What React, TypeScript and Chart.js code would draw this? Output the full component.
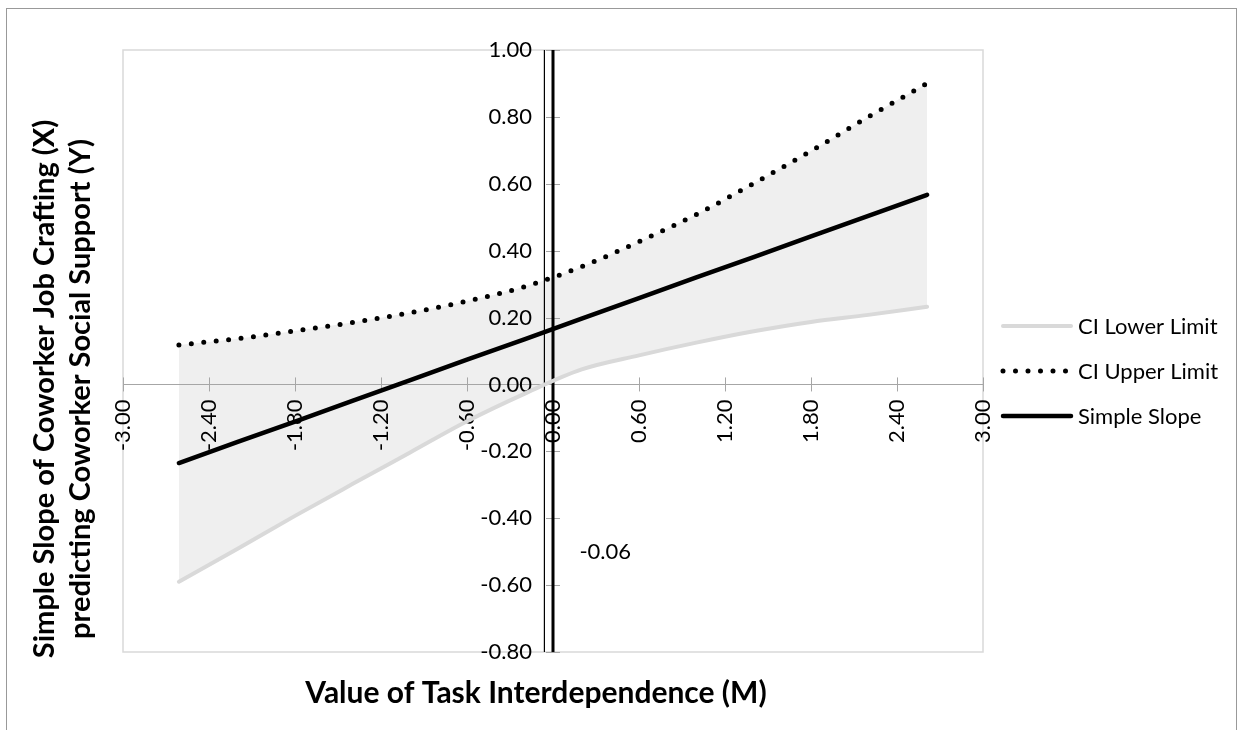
import React, { useEffect, useRef } from "react";
import { Chart, registerables } from "chart.js";

Chart.register(...registerables);

// ---- data ----
const X_VALUES = [-2.61, -2.2, -1.8, -1.4, -1.0, -0.6, -0.2, 0.2, 0.6, 1.0, 1.4, 1.8, 2.2, 2.61];
const SIMPLE_SLOPE = [-0.235, -0.172, -0.111, -0.049, 0.012, 0.074, 0.135, 0.197, 0.258, 0.32, 0.381, 0.443, 0.504, 0.567];
const CI_UPPER = [0.118, 0.137, 0.16, 0.185, 0.214, 0.249, 0.292, 0.352, 0.427, 0.508, 0.601, 0.698, 0.8, 0.9];
const CI_LOWER = [-0.59, -0.491, -0.393, -0.298, -0.204, -0.11, -0.028, 0.045, 0.087, 0.125, 0.159, 0.187, 0.208, 0.232];

const X_TICKS = [-3, -2.4, -1.8, -1.2, -0.6, 0, 0.6, 1.2, 1.8, 2.4, 3];
const Y_TICKS = [-0.8, -0.6, -0.4, -0.2, 0, 0.2, 0.4, 0.6, 0.8, 1.0];
const X_MIN = -3;
const X_MAX = 3;
const Y_MIN = -0.8;
const Y_MAX = 1.0;

const JN_POINT = -0.06;
const ZERO_LINE_X = 0;

const SERIES_NAMES = ["CI Lower Limit", "CI Upper Limit", "Simple Slope"];
const X_TITLE = "Value of Task Interdependence (M)";
const Y_TITLE = ["Simple Slope of Coworker Job Crafting (X)", "predicting Coworker Social Support (Y)"];

const FONT = "Lato, 'Open Sans', sans-serif";
const AXIS_GRAY = "#a6a6a6";
const LABEL_SIZE = 22;

const toPoints = (ys: number[]) => X_VALUES.map((x, i) => ({ x, y: ys[i] }));

const decorPlugin = {
  id: "decor",
  beforeDatasetsDraw(chart: any) {
    const { ctx, chartArea: a, scales } = chart;
    const xs = scales.x;
    const ys = scales.y;
    const y0 = ys.getPixelForValue(0);
    const x0 = xs.getPixelForValue(0);
    ctx.save();
    // plot area border
    ctx.strokeStyle = "#d9d9d9";
    ctx.lineWidth = 1.5;
    ctx.strokeRect(a.left, a.top, a.right - a.left, a.bottom - a.top);
    // axis lines
    ctx.strokeStyle = AXIS_GRAY;
    ctx.lineWidth = 1;
    const yl = Math.round(y0) + 0.5;
    ctx.beginPath();
    ctx.moveTo(a.left, yl);
    ctx.lineTo(a.right, yl);
    ctx.stroke();
    const xl = Math.round(x0) + 0.5;
    ctx.beginPath();
    ctx.moveTo(xl, a.top);
    ctx.lineTo(xl, a.bottom);
    ctx.stroke();
    // crossing tick marks
    X_TICKS.forEach((v) => {
      const px = Math.round(xs.getPixelForValue(v)) + 0.5;
      ctx.beginPath();
      ctx.moveTo(px, y0 - 7);
      ctx.lineTo(px, y0 + 7);
      ctx.stroke();
    });
    Y_TICKS.forEach((v) => {
      const py = Math.round(ys.getPixelForValue(v)) + 0.5;
      ctx.beginPath();
      ctx.moveTo(x0 - 7, py);
      ctx.lineTo(x0 + 7, py);
      ctx.stroke();
    });
    // tick labels
    ctx.fillStyle = "#000";
    ctx.font = `${LABEL_SIZE}px ${FONT}`;
    X_TICKS.forEach((v) => {
      const px = xs.getPixelForValue(v);
      ctx.save();
      ctx.translate(px, y0 + 15);
      ctx.rotate(-Math.PI / 2);
      ctx.textAlign = "right";
      ctx.textBaseline = "middle";
      ctx.fillText(v.toFixed(2), 0, 0);
      ctx.restore();
    });
    ctx.textAlign = "right";
    ctx.textBaseline = "middle";
    Y_TICKS.forEach((v) => {
      ctx.fillText(v.toFixed(2), x0 - 21, ys.getPixelForValue(v));
    });
    ctx.restore();
  },
  afterDraw(chart: any) {
    const { ctx, chartArea: a, scales } = chart;
    const xs = scales.x;
    const ys = scales.y;
    ctx.save();
    // JN label
    ctx.fillStyle = "#000";
    ctx.font = `${LABEL_SIZE}px ${FONT}`;
    ctx.textAlign = "left";
    ctx.textBaseline = "middle";
    ctx.fillText(JN_POINT.toFixed(2), xs.getPixelForValue(JN_POINT) + 35, ys.getPixelForValue(-0.5));

    // legend
    const order = [2, 1, 0];
    const lx = a.right + 18;
    order.forEach((di, i) => {
      const ds = chart.data.datasets[di];
      const y = 326 + i * 45;
      ctx.save();
      ctx.strokeStyle = ds.borderColor;
      ctx.lineWidth = ds.borderWidth;
      ctx.lineCap = ds.borderCapStyle || "butt";
      ctx.setLineDash(ds.borderDash || []);
      ctx.beginPath();
      ctx.moveTo(lx + 2, y);
      ctx.lineTo(lx + 70, y);
      ctx.stroke();
      ctx.restore();
      ctx.fillStyle = "#000";
      ctx.font = `${LABEL_SIZE}px ${FONT}`;
      ctx.textAlign = "left";
      ctx.textBaseline = "middle";
      ctx.fillText(ds.label, lx + 77, y + 1);
    });

    // axis titles
    ctx.fillStyle = "#000";
    ctx.textAlign = "center";
    ctx.textBaseline = "middle";
    ctx.font = `bold 30px ${FONT}`;
    ctx.fillText(X_TITLE, 536, 693);
    ctx.font = `bold 29px ${FONT}`;
    const cy = 389;
    ctx.save();
    ctx.translate(45, cy);
    ctx.rotate(-Math.PI / 2);
    ctx.fillText(Y_TITLE[0], 0, 0);
    ctx.restore();
    ctx.save();
    ctx.translate(81, cy);
    ctx.rotate(-Math.PI / 2);
    ctx.fillText(Y_TITLE[1], 0, 0);
    ctx.restore();
    ctx.restore();
  },
};

export default function App() {
  const ref = useRef<HTMLCanvasElement>(null);

  useEffect(() => {
    if (!ref.current) return;
    const chart = new Chart(ref.current, {
      type: "line",
      data: {
        datasets: [
          {
            label: SERIES_NAMES[2],
            data: toPoints(SIMPLE_SLOPE),
            borderColor: "#000000",
            borderWidth: 4.5,
            borderCapStyle: "round",
            pointRadius: 0,
            fill: false,
          },
          {
            label: SERIES_NAMES[1],
            data: toPoints(CI_UPPER),
            borderColor: "#000000",
            borderWidth: 5,
            borderDash: [0, 12.5],
            borderCapStyle: "round",
            cubicInterpolationMode: "monotone",
            pointRadius: 0,
            fill: { target: 2 },
            backgroundColor: "#efefef",
          },
          {
            label: SERIES_NAMES[0],
            data: toPoints(CI_LOWER),
            borderColor: "#d9d9d9",
            borderWidth: 4,
            borderCapStyle: "round",
            cubicInterpolationMode: "monotone",
            pointRadius: 0,
            fill: false,
          },
          {
            label: "JN",
            data: [
              { x: JN_POINT, y: Y_MIN },
              { x: JN_POINT, y: Y_MAX },
            ],
            borderColor: "#000000",
            borderWidth: 1.2,
            pointRadius: 0,
            fill: false,
          },
          {
            label: "Zero",
            data: [
              { x: ZERO_LINE_X, y: Y_MIN },
              { x: ZERO_LINE_X, y: Y_MAX },
            ],
            borderColor: "#000000",
            borderWidth: 3,
            pointRadius: 0,
            fill: false,
          },
        ],
      } as any,
      options: {
        responsive: false,
        animation: false,
        layout: { padding: { left: 123, top: 50, right: 1244 - 983, bottom: 730 - 652 } },
        plugins: {
          legend: { display: false },
          tooltip: { enabled: false },
          filler: { propagate: false, drawTime: "beforeDatasetsDraw" } as any,
        },
        scales: {
          x: {
            type: "linear",
            min: X_MIN,
            max: X_MAX,
            position: { y: 0 } as any,
            ticks: { display: false },
            grid: { display: false },
            border: { display: false },
          },
          y: {
            type: "linear",
            min: Y_MIN,
            max: Y_MAX,
            position: { x: 0 } as any,
            ticks: { display: false },
            grid: { display: false },
            border: { display: false },
          },
        },
      } as any,
      plugins: [decorPlugin],
    });
    return () => chart.destroy();
  }, []);

  return (
    <div style={{ position: "fixed", left: 0, top: 0, width: 1244, height: 730, background: "#fff", overflow: "hidden" }}>
      <div
        style={{
          position: "absolute",
          left: 6,
          top: 8,
          width: 1231,
          height: 740,
          border: "1px solid #999",
          boxSizing: "border-box",
        }}
      />
      <canvas
        ref={ref}
        width={1244}
        height={730}
        style={{ position: "absolute", left: 0, top: 0, width: 1244, height: 730 }}
      />
    </div>
  );
}
